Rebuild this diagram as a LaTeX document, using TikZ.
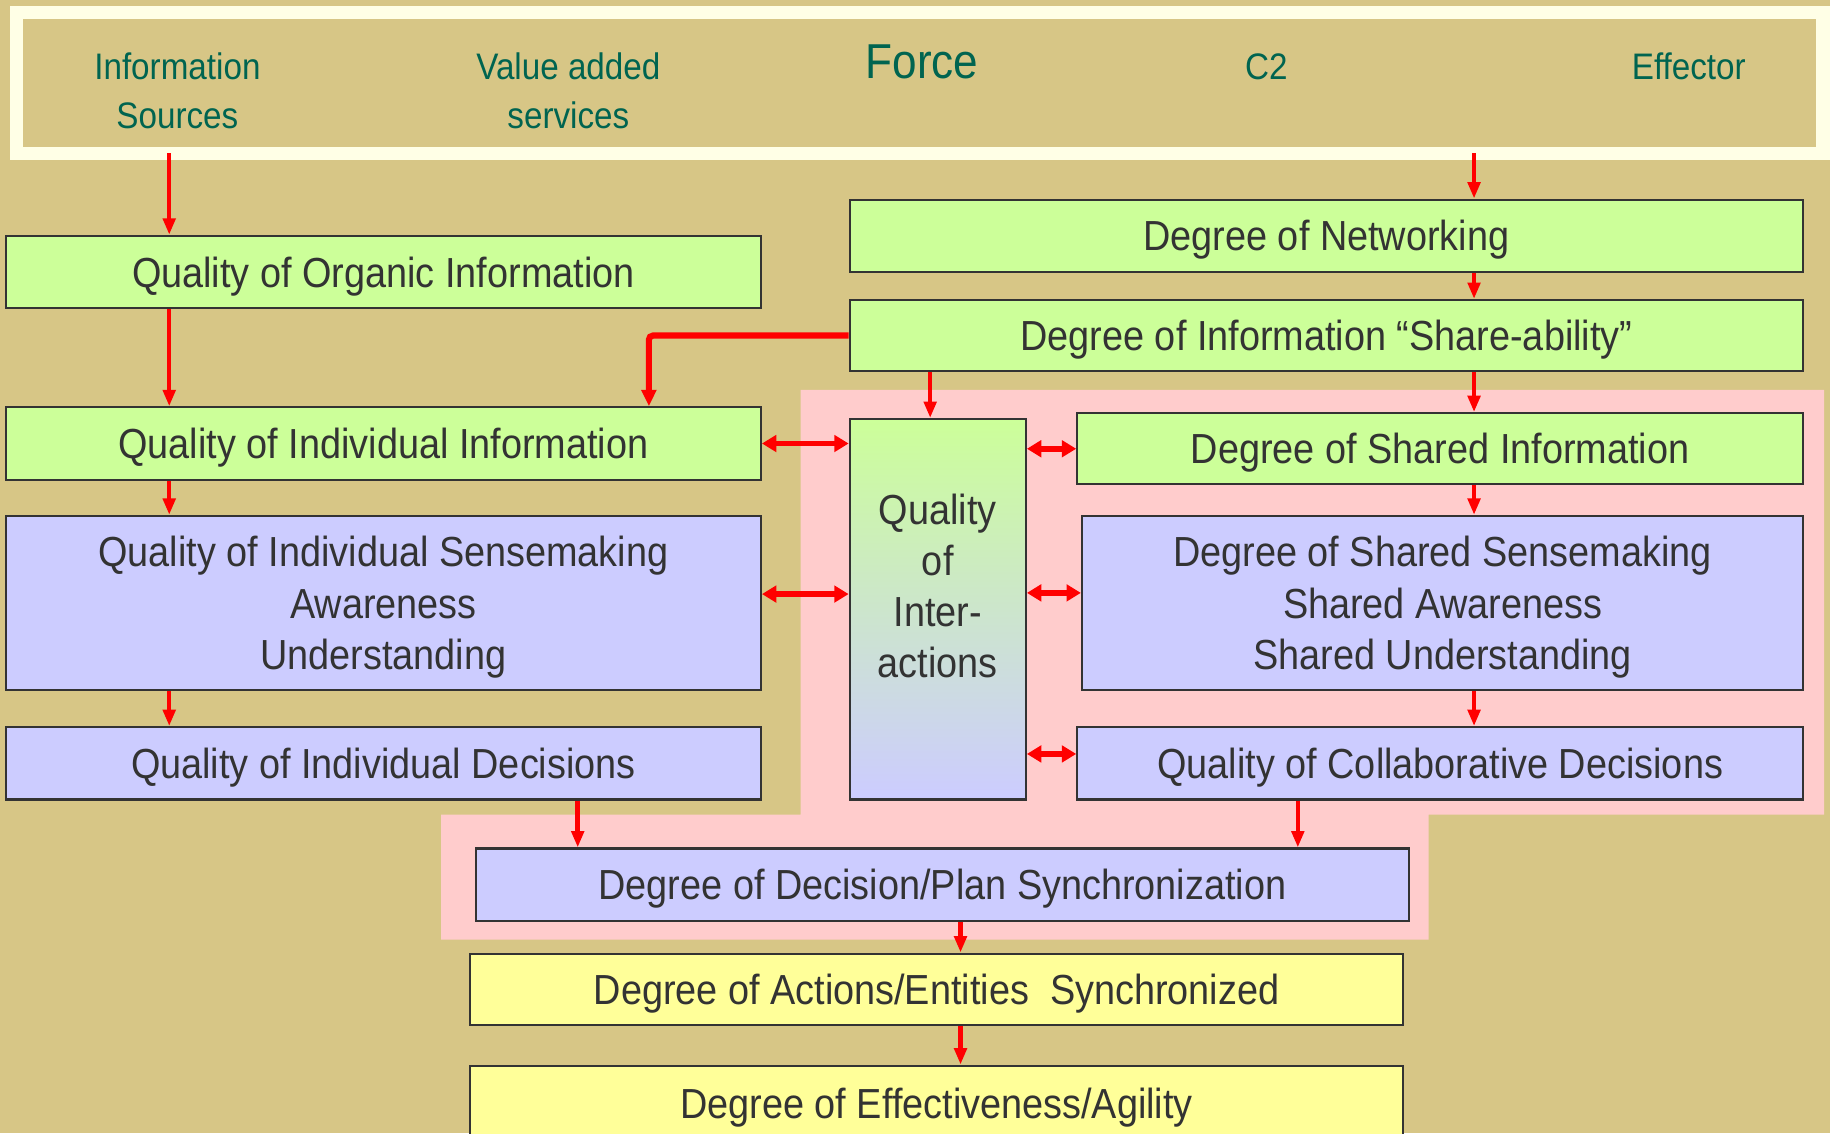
\documentclass[tikz,border=0pt]{standalone}
\usepackage{fontspec}
\setmainfont[FakeStretch=0.9]{Liberation Sans}
\usepackage{tikz}
\usetikzlibrary{arrows.meta,calc}
\usepackage{xcolor}
\definecolor{bgcolor}{RGB}{215, 198, 134}
\definecolor{framecolor}{RGB}{255, 255, 230}
\definecolor{titlecolor}{RGB}{0, 100, 80}
\definecolor{infocolor}{RGB}{204, 255, 153}
\definecolor{sensecolor}{RGB}{204, 204, 255}
\definecolor{effectcolor}{RGB}{255, 255, 153}
\definecolor{zonecolor}{RGB}{255, 204, 204}
\definecolor{inkcolor}{RGB}{51, 51, 51}

\begin{document}
\begin{tikzpicture}[
    box/.style={rectangle, draw=inkcolor, line width=1pt, inner sep=0pt, text depth=0pt, align=center, text=inkcolor, font=\fontsize{20.5}{25}\selectfont},
    info/.style={box, fill=infocolor},
    sense/.style={box, fill=sensecolor},
    effect/.style={box, fill=effectcolor},
    title/.style={text=titlecolor, align=center, font=\fontsize{18}{23.9}\selectfont},
    flow/.style={-{Triangle[length=8pt, width=6pt]}, red, line width=2.2pt},
    link/.style={{Triangle[length=7pt, width=8pt]}-{Triangle[length=7pt, width=8pt]}, red, line width=2.8pt},
]
    \useasboundingbox (0, 0) rectangle (31.36, -19.42);
    \clip (0, 0) rectangle (31.36, -19.42);
    \fill[bgcolor] (0, 0) rectangle (31.36, -19.42);

    % Force banner
    \node[draw=framecolor, line width=0.23cm, fill=bgcolor, outer sep=0pt, minimum width=30.96cm, minimum height=2.42cm] (banner) at (15.76, -1.42) {};
    \node[title] (sources) at (3.04, -1.56) {Information\\Sources};
    \node[title] (services) at (9.74, -1.56) {Value added\\services};
    \node[title, font=\fontsize{23.9}{26}\selectfont] (force) at (15.8, -1.06) {Force};
    \node[title] (ctwo) at (21.7, -1.14) {C2};
    \node[title] (effector) at (28.94, -1.14) {Effector};

    % Shared zone
    \fill[zonecolor] (13.72, -6.68) -- (31.26, -6.68) -- (31.26, -13.96) -- (24.48, -13.96) -- (24.48, -16.10) -- (7.56, -16.10) -- (7.56, -13.96) -- (13.72, -13.96) -- cycle;

    % Individual column
    \node[info, minimum width=12.94cm, minimum height=1.24cm] (organic) at (6.57, -4.66) {Quality of Organic Information};
    \node[info, minimum width=12.94cm, minimum height=1.24cm] (indinfo) at (6.57, -7.60) {Quality of Individual Information};
    \node[sense, minimum width=12.94cm, minimum height=2.98cm] (indsense) at (6.57, -10.33) {Quality of Individual Sensemaking\\Awareness\\Understanding};
    \node[sense, minimum width=12.94cm, minimum height=1.24cm] (inddec) at (6.57, -13.08) {Quality of Individual Decisions};

    % Network column
    \node[info, minimum width=16.34cm, minimum height=1.24cm] (network) at (22.73, -4.04) {Degree of Networking};
    \node[info, minimum width=16.34cm, minimum height=1.22cm] (share) at (22.73, -5.75) {Degree of Information “Share-ability”};
    \node[box, top color=infocolor, bottom color=sensecolor, minimum width=3.02cm, minimum height=6.52cm,
          label={[yshift=0.4cm, align=center, text=inkcolor, font=\fontsize{20.5}{25}\selectfont]center:Quality\\of\\Inter-\\actions}] (interact) at (16.07, -10.44) {};
    \node[info, minimum width=12.44cm, minimum height=1.22cm] (sharedinfo) at (24.68, -7.69) {Degree of Shared Information};
    \node[sense, minimum width=12.36cm, minimum height=2.98cm] (sharedsense) at (24.72, -10.33) {Degree of Shared Sensemaking\\Shared Awareness\\Shared Understanding};
    \node[sense, minimum width=12.44cm, minimum height=1.24cm] (collab) at (24.68, -13.08) {Quality of Collaborative Decisions};

    % Outcomes
    \node[sense, minimum width=15.98cm, minimum height=1.24cm] (sync) at (16.15, -15.16) {Degree of Decision/Plan Synchronization};
    \node[effect, minimum width=15.98cm, minimum height=1.22cm] (actions) at (16.05, -16.95) {Degree of Actions/Entities\ \ Synchronized};
    \node[effect, minimum width=15.98cm, minimum height=1.28cm] (agility) at (16.05, -18.90) {Degree of Effectiveness/Agility};

    % Arrow columns
    \coordinate (lcol) at (2.9, 0);
    \coordinate (rcol) at (25.26, 0);
    \coordinate (icol) at (15.94, 0);
    \coordinate (scol) at (11.12, 0);
    \coordinate (lsync) at (9.9, 0);
    \coordinate (rsync) at (22.24, 0);
    \coordinate (mcol) at (16.46, 0);

    % Arrows
    \draw[flow] (banner.south -| lcol) -- (organic.north -| lcol);
    \draw[flow] (organic.south -| lcol) -- (indinfo.north -| lcol);
    \draw[flow] (indinfo.south -| lcol) -- (indsense.north -| lcol);
    \draw[flow] (indsense.south -| lcol) -- (inddec.north -| lcol);
    \draw[flow] (banner.south -| rcol) -- (network.north -| rcol);
    \draw[flow] (network.south -| rcol) -- (share.north -| rcol);
    \draw[flow] (share.south -| rcol) -- (sharedinfo.north -| rcol);
    \draw[flow] (sharedinfo.south -| rcol) -- (sharedsense.north -| rcol);
    \draw[flow] (sharedsense.south -| rcol) -- (collab.north -| rcol);
    \draw[flow] (share.south -| icol) -- (interact.north -| icol);
    \draw[flow, line width=3pt, rounded corners=2pt, -{Triangle[length=8pt, width=7pt]}] (share.west) -| (indinfo.north -| scol);
    \draw[flow] (inddec.south -| lsync) -- (sync.north -| lsync);
    \draw[flow] (collab.south -| rsync) -- (sync.north -| rsync);
    \draw[flow] (sync.south -| mcol) -- (actions.north -| mcol);
    \draw[flow] (actions.south -| mcol) -- (agility.north -| mcol);

    % Interactions
    \draw[link] (indinfo.east) -- (indinfo.east -| interact.west);
    \draw[link] ([yshift=0.15cm]indsense.east) -- ([yshift=0.15cm]indsense.east -| interact.west);
    \draw[link] (interact.east |- sharedinfo.west) -- (sharedinfo.west);
    \draw[link] ([yshift=0.17cm]interact.east |- sharedsense.west) -- ([yshift=0.17cm]sharedsense.west);
    \draw[link] ([yshift=0.16cm]interact.east |- collab.west) -- ([yshift=0.16cm]collab.west);
\end{tikzpicture}
\end{document}
